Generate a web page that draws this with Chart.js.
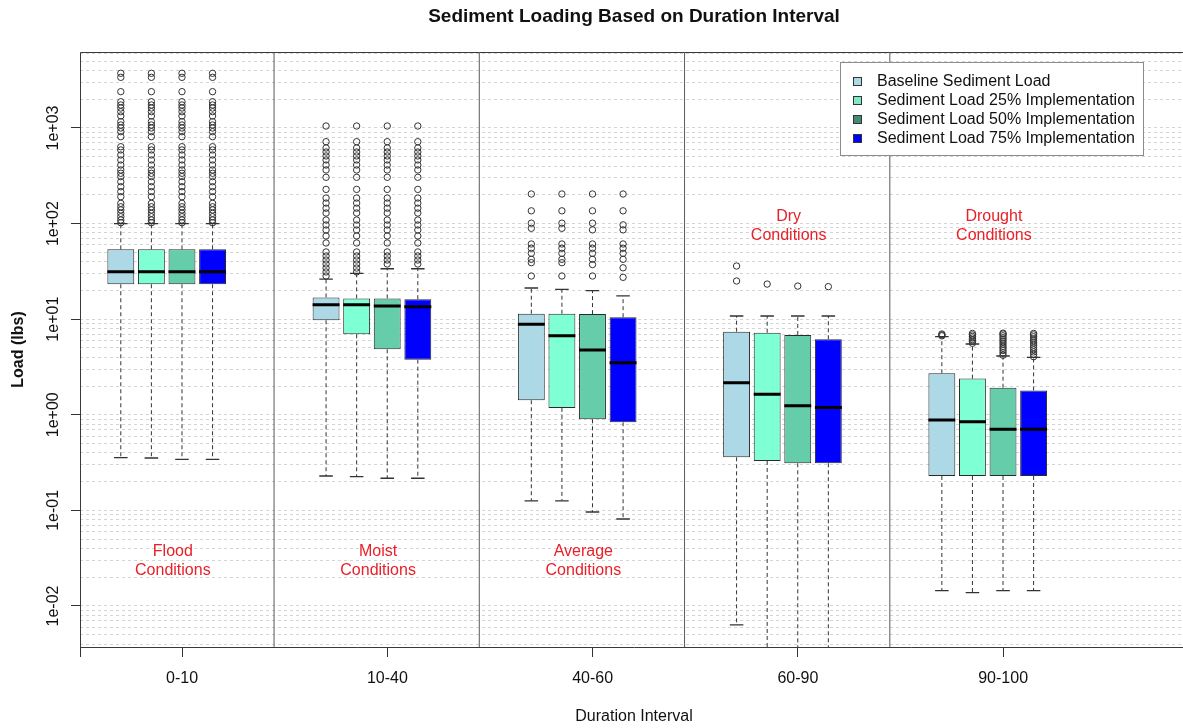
<!DOCTYPE html>
<html>
<head>
<meta charset="utf-8">
<script src="https://cdn.jsdelivr.net/npm/chart.js@4.4.1/dist/chart.umd.min.js"></script>
<style>
  html, body { margin: 0; padding: 0; background: #ffffff; overflow: hidden; width: 1183px; height: 728px; }
  #wrap { width: 1193px; height: 728px; }
</style>
</head>
<body>
<div id="wrap"><canvas id="chart" width="1193" height="728"></canvas></div>
<script>
// ---------------- data ----------------
const TITLE = 'Sediment Loading Based on Duration Interval';
const X_TITLE = 'Duration Interval';
const Y_TITLE = 'Load (lbs)';
const CATEGORIES = ['0-10', '10-40', '40-60', '60-90', '90-100'];
const SERIES = [
  'Baseline Sediment Load',
  'Sediment Load 25% Implementation',
  'Sediment Load 50% Implementation',
  'Sediment Load 75% Implementation'
];
const Y_TICK_VALUES = [0.01, 0.1, 1, 10, 100, 1000];
const Y_TICK_LABELS = ['1e-02', '1e-01', '1e+00', '1e+01', '1e+02', '1e+03'];
const ANNOTATIONS = [
  ['Flood', 'Conditions'],
  ['Moist', 'Conditions'],
  ['Average', 'Conditions'],
  ['Dry', 'Conditions'],
  ['Drought', 'Conditions']
];

// box statistics, [series][category]
const LOWER_WHISKER = [
  [0.356, 0.229, 0.126, 0.00633, 0.01445],
  [0.353, 0.225, 0.126, 0.002, 0.01377],
  [0.342, 0.217, 0.0962, 0.002, 0.01445],
  [0.342, 0.217, 0.0813, 0.002, 0.01445]
];
const Q1 = [
  [23.2, 9.75, 1.42, 0.359, 0.229],
  [23.2, 6.95, 1.18, 0.329, 0.229],
  [23.2, 4.84, 0.897, 0.311, 0.229],
  [23.2, 3.77, 0.836, 0.311, 0.229]
];
const MEDIAN = [
  [31.4, 14.2, 8.85, 2.17, 0.883],
  [31.4, 14.2, 6.72, 1.64, 0.848],
  [31.4, 13.7, 4.76, 1.24, 0.705],
  [31.4, 13.5, 3.51, 1.19, 0.705]
];
const Q3 = [
  [53.8, 16.9, 11.4, 7.40, 2.72],
  [53.8, 16.5, 11.4, 7.22, 2.39],
  [53.8, 16.5, 11.3, 6.84, 1.92],
  [53.8, 16.2, 10.5, 6.17, 1.80]
];
const UPPER_WHISKER = [
  [99.7, 26.3, 21.2, 10.8, 6.56],
  [99.7, 30.2, 20.5, 10.8, 5.50],
  [99.7, 33.7, 19.9, 10.8, 4.12],
  [99.7, 33.7, 17.5, 10.8, 3.99]
];

const OUT_FLOOD = [3735, 3388, 2399, 1884, 1741, 1618, 1481, 1336, 1165, 1075, 1000, 915, 811,
  637, 589, 522, 463, 410, 364, 336, 310, 274, 243, 216, 191, 163, 150, 139, 128, 118, 109, 102];
const OUTLIERS = [
  [
    OUT_FLOOD,
    [1049, 719, 618, 561, 510, 463, 410, 364, 305, 228, 185, 164, 145, 129, 109, 96.7, 85.7, 74.2, 62.7, 50.5, 45.8, 41.6, 37.8, 34.3, 31.2, 28.3],
    [204, 136, 101, 89.3, 61.2, 55.2, 48.9, 42.3, 39.0, 28.3],
    [36.0, 25.1],
    [6.7, 6.85, 7.0]
  ],
  [
    OUT_FLOOD,
    [1049, 719, 618, 561, 510, 463, 410, 364, 305, 228, 185, 164, 145, 129, 109, 96.7, 85.7, 74.2, 62.7, 50.5, 45.8, 41.6, 37.8, 34.3, 31.2],
    [204, 136, 101, 89.3, 61.2, 55.2, 48.9, 42.3, 39.0, 28.3],
    [23.3],
    [5.6, 5.85, 6.1, 6.35, 6.6, 6.85, 7.1]
  ],
  [
    OUT_FLOOD,
    [1049, 719, 618, 561, 510, 463, 410, 364, 305, 228, 185, 164, 145, 129, 109, 96.7, 85.7, 74.2, 62.7, 50.5, 45.8, 41.6, 37.8],
    [204, 136, 101, 86, 61.2, 55.2, 48.9, 42.3, 37.3, 28.3],
    [22.2],
    [4.2, 4.45, 4.7, 4.95, 5.2, 5.5, 5.8, 6.1, 6.4, 6.7, 7.0, 7.15]
  ],
  [
    OUT_FLOOD,
    [1049, 719, 618, 561, 510, 463, 410, 364, 305, 228, 185, 164, 145, 129, 109, 96.7, 85.7, 74.2, 62.7, 50.5, 45.8, 41.6, 37.8],
    [204, 136, 97, 86, 61.2, 55.2, 48.9, 42.3, 34.5, 27.4],
    [21.9],
    [4.05, 4.3, 4.55, 4.8, 5.05, 5.35, 5.65, 5.95, 6.25, 6.55, 6.85, 7.1]
  ]
];

// ---------------- styles / geometry ----------------
const FONT = "'Liberation Sans', Arial, Helvetica, sans-serif";
const BOX_COLORS = ['#add8e6', '#7fffd4', '#66cdaa', '#0000ff'];
const LEGEND_COLORS = ['#add8e6', '#7fe8c6', '#458b74', '#0000ff'];
const ANNOT_COLOR = '#e82028';
const X_MIN = 0.5777, X_MAX = 5.9757;
const Y_MIN = 0.003724, Y_MAX = 6237;
const SPACING = 0.149, BOX_W = 0.131, CAP_W = 0.066;
const SLOT = [-1.5, -0.5, 0.5, 1.5];
const TICK_SHIFT = 0.075;
const SEP_SHIFT = 0.523;

const bx = (g, s) => g + 1 + SLOT[s] * SPACING;

const datasets = [];
SERIES.forEach((name, s) => {
  datasets.push({
    type: 'bar', label: name, order: 3,
    data: CATEGORIES.map((c, g) => ({ x: bx(g, s), y: [Q1[s][g], Q3[s][g]] })),
    backgroundColor: BOX_COLORS[s], borderColor: '#2a2a2a', borderWidth: 1,
    borderSkipped: false, grouped: false, categoryPercentage: 1, barPercentage: BOX_W / SPACING
  });
  datasets.push({
    type: 'line', label: name + ' median', order: 1,
    data: CATEGORIES.flatMap((c, g) => [
      { x: bx(g, s) - BOX_W / 2, y: MEDIAN[s][g] },
      { x: bx(g, s) + BOX_W / 2, y: MEDIAN[s][g] },
      { x: bx(g, s), y: null }
    ]),
    borderColor: '#000000', borderWidth: 3, pointRadius: 0, spanGaps: false, fill: false
  });
  datasets.push({
    type: 'line', label: name + ' whiskers', order: 5,
    data: CATEGORIES.flatMap((c, g) => [
      { x: bx(g, s), y: Q3[s][g] }, { x: bx(g, s), y: UPPER_WHISKER[s][g] }, { x: bx(g, s), y: null },
      { x: bx(g, s), y: Q1[s][g] }, { x: bx(g, s), y: LOWER_WHISKER[s][g] }, { x: bx(g, s), y: null }
    ]),
    borderColor: '#333333', borderWidth: 1, borderDash: [4, 3], pointRadius: 0, spanGaps: false, fill: false
  });
  datasets.push({
    type: 'line', label: name + ' caps', order: 4,
    data: CATEGORIES.flatMap((c, g) => [
      { x: bx(g, s) - CAP_W / 2, y: UPPER_WHISKER[s][g] }, { x: bx(g, s) + CAP_W / 2, y: UPPER_WHISKER[s][g] }, { x: bx(g, s), y: null },
      { x: bx(g, s) - CAP_W / 2, y: LOWER_WHISKER[s][g] }, { x: bx(g, s) + CAP_W / 2, y: LOWER_WHISKER[s][g] }, { x: bx(g, s), y: null }
    ]),
    borderColor: '#333333', borderWidth: 1.3, pointRadius: 0, spanGaps: false, fill: false
  });
  datasets.push({
    type: 'scatter', label: name + ' outliers', order: 2,
    data: OUTLIERS[s].flatMap((arr, g) => arr.map(v => ({ x: bx(g, s), y: v }))),
    pointStyle: 'circle', pointRadius: 3.2, pointBorderWidth: 1,
    pointBorderColor: '#333333', pointBackgroundColor: 'rgba(255,255,255,0)', showLine: false
  });
});
datasets.push({
  type: 'line', label: 'separators', order: 9,
  data: CATEGORIES.slice(1).flatMap((c, g) => [
    { x: g + 1 + SEP_SHIFT, y: 1e-6 }, { x: g + 1 + SEP_SHIFT, y: 1e6 }, { x: g + 1 + SEP_SHIFT, y: null }
  ]),
  borderColor: '#5a5a5a', borderWidth: 1, pointRadius: 0, spanGaps: false, fill: false
});

const isDecade = v => Math.abs(Math.log10(v) - Math.round(Math.log10(v))) < 1e-9;

const framePlugin = {
  id: 'frame',
  beforeDatasetsDraw(chart) {
    const { ctx, chartArea: a } = chart;
    ctx.save();
    ctx.strokeStyle = '#3a3a3a'; ctx.lineWidth = 1;
    ctx.beginPath();
    ctx.moveTo(a.left + 0.5, a.bottom); ctx.lineTo(a.left + 0.5, a.top + 0.5); ctx.lineTo(a.right, a.top + 0.5);
    ctx.stroke();
    ctx.restore();
  }
};

const overlayPlugin = {
  id: 'overlay',
  afterDatasetsDraw(chart) {
    const { ctx, chartArea: a, scales } = chart;
    ctx.save();
    // annotations
    const annotY = [0.037, 0.037, 0.037, 117, 117];
    ctx.fillStyle = ANNOT_COLOR;
    ctx.font = '16px ' + FONT;
    ctx.textAlign = 'center'; ctx.textBaseline = 'middle';
    ANNOTATIONS.forEach((lines, g) => {
      const x = scales.x.getPixelForValue(g + 1 + 0.03);
      const y = scales.y.getPixelForValue(annotY[g]);
      lines.forEach((t, i) => ctx.fillText(t, x, y + i * 19));
    });
    // legend
    const lx = 840, ly = 62, lw = 303, lh = 93;
    ctx.fillStyle = '#ffffff'; ctx.fillRect(lx, ly, lw, lh);
    ctx.strokeStyle = '#8c8c8c'; ctx.lineWidth = 1; ctx.strokeRect(lx + 0.5, ly + 0.5, lw, lh);
    ctx.font = '16px ' + FONT; ctx.textAlign = 'left'; ctx.textBaseline = 'middle';
    SERIES.forEach((name, i) => {
      const y = 81.5 + i * 19;
      ctx.fillStyle = LEGEND_COLORS[i]; ctx.fillRect(853, y - 4.5, 9, 9);
      ctx.strokeStyle = '#333333'; ctx.strokeRect(853.5, y - 4, 8, 8);
      ctx.fillStyle = '#111111'; ctx.fillText(name, 877, y);
    });
    ctx.restore();
  },
  afterDraw(chart) {
    const { ctx, chartArea: a } = chart;
    ctx.save();
    ctx.fillStyle = '#111111';
    ctx.font = 'bold 19px ' + FONT;
    ctx.textAlign = 'center'; ctx.textBaseline = 'middle';
    ctx.fillText(TITLE, (a.left + a.right) / 2, 17);
    ctx.restore();
  }
};

new Chart(document.getElementById('chart'), {
  type: 'bar',
  data: { datasets },
  options: {
    responsive: false, animation: false, devicePixelRatio: 1, events: [],
    layout: { padding: { top: 52, right: 1, left: 0, bottom: 0 } },
    plugins: { legend: { display: false }, tooltip: { enabled: false }, title: { display: false } },
    scales: {
      x: {
        type: 'linear', min: X_MIN, max: X_MAX, offset: false,
        afterFit: s => { s.height = 81; },
        afterBuildTicks: s => {
          s.ticks = [{ value: X_MIN }].concat(CATEGORIES.map((c, i) => ({ value: i + 1 + TICK_SHIFT })));
        },
        ticks: {
          autoSkip: false, minRotation: 0, maxRotation: 0, padding: 12, color: '#111111',
          font: { family: FONT, size: 16 },
          callback: (v, i) => (i === 0 ? '' : CATEGORIES[i - 1])
        },
        grid: { display: true, drawOnChartArea: false, drawTicks: true, tickLength: 10, tickColor: '#333333', tickWidth: 1, offset: false },
        border: { display: true, color: '#3a3a3a', width: 1 },
        title: { display: true, text: X_TITLE, color: '#111111', font: { family: FONT, size: 16 }, padding: { top: 0, bottom: 1.4 } }
      },
      y: {
        type: 'logarithmic', min: Y_MIN, max: Y_MAX,
        afterFit: s => { s.width = 80; },
        afterBuildTicks: s => {
          const t = [];
          for (let e = -3; e <= 3; e++) {
            for (let m = 1; m <= 9; m++) {
              const v = m * Math.pow(10, e);
              if (v >= Y_MIN && v <= Y_MAX) t.push({ value: v });
            }
          }
          s.ticks = t;
        },
        ticks: {
          autoSkip: false, minRotation: 90, maxRotation: 90, crossAlign: 'center', padding: -5.5,
          color: '#111111', font: { family: FONT, size: 16 },
          callback: v => {
            const i = Y_TICK_VALUES.findIndex(t => Math.abs(Math.log10(t) - Math.log10(v)) < 1e-6);
            return i >= 0 ? Y_TICK_LABELS[i] : '';
          }
        },
        grid: {
          color: '#d4d4d4', lineWidth: 1, drawTicks: true, tickLength: 9, tickWidth: 1,
          tickColor: ctx => (ctx.tick && isDecade(ctx.tick.value) ? '#333333' : 'rgba(0,0,0,0)')
        },
        border: { display: false, dash: [3, 3] },
        title: { display: true, text: Y_TITLE, color: '#111111', font: { family: FONT, size: 16, weight: 'bold' }, padding: { top: 9.4, bottom: 0 } }
      }
    }
  },
  plugins: [framePlugin, overlayPlugin]
});
</script>
</body>
</html>
